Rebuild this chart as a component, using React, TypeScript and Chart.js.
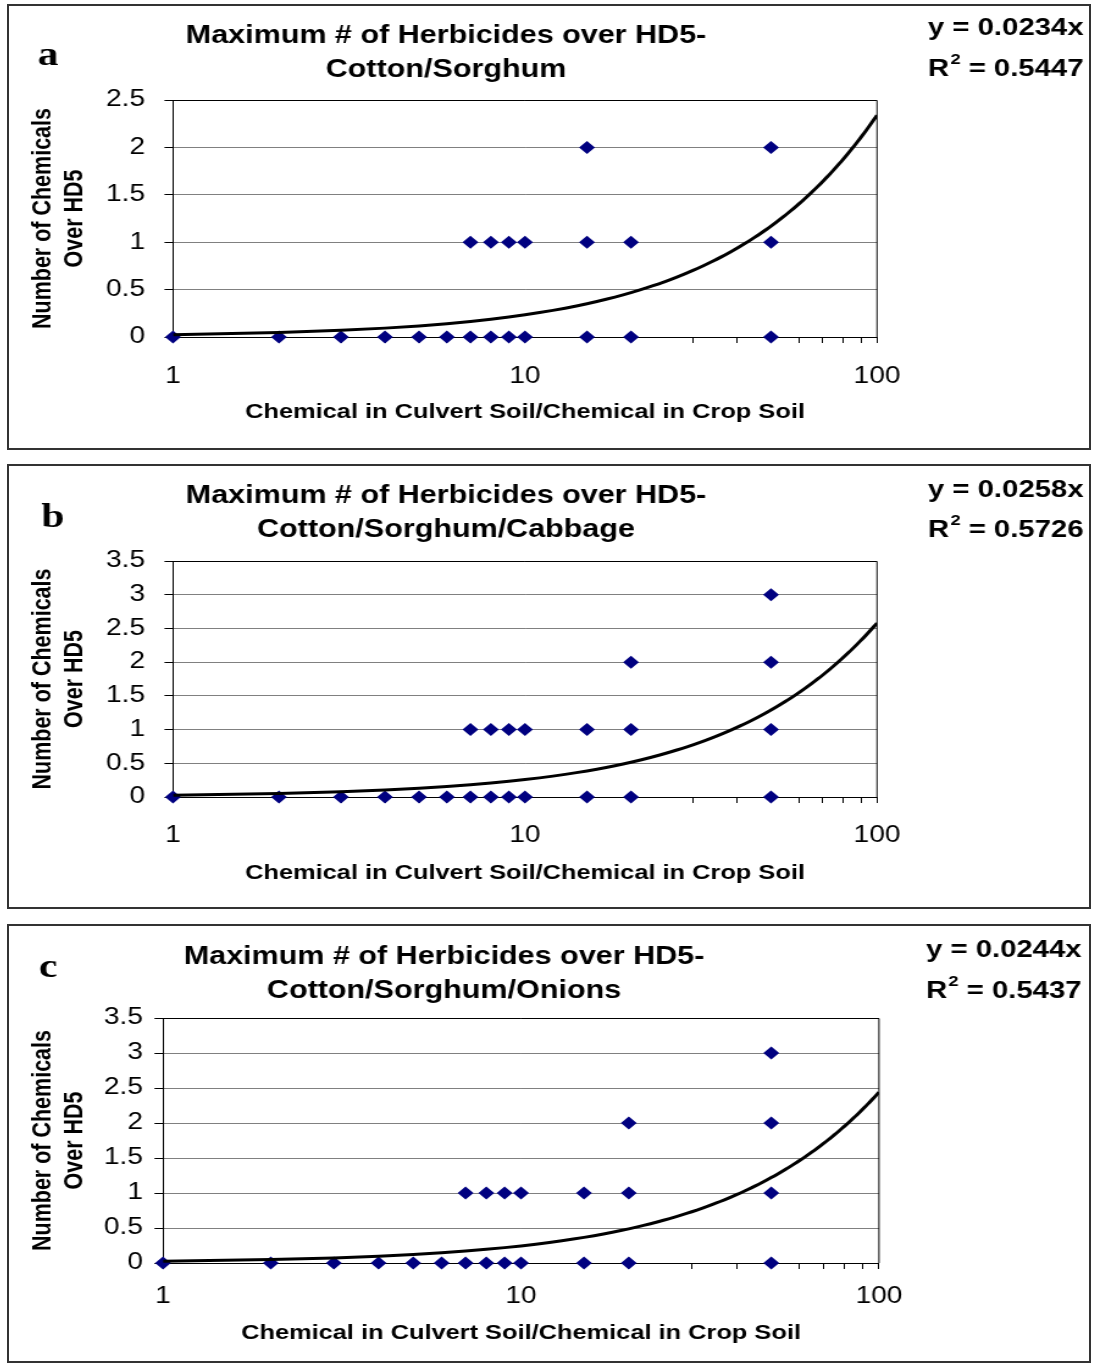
import { useEffect, useRef } from "react";
import { Chart, registerables } from "chart.js";

Chart.register(...registerables);

// ---------------------------------------------------------------------------
// Data
// ---------------------------------------------------------------------------

// Ratio of chemical in culvert soil to chemical in crop soil for each sample,
// paired with the number of herbicides found above HD5 for that sample.
const cottonSorghumRatios = [1, 2, 3, 4, 5, 6, 7, 8, 9, 10, 15, 20, 50, 7, 8, 9, 10, 15, 20, 50, 15, 50];
const cottonSorghumCounts = [0, 0, 0, 0, 0, 0, 0, 0, 0, 0, 0, 0, 0, 1, 1, 1, 1, 1, 1, 1, 2, 2];

const cabbageRatios = [1, 2, 3, 4, 5, 6, 7, 8, 9, 10, 15, 20, 50, 7, 8, 9, 10, 15, 20, 50, 20, 50, 50];
const cabbageCounts = [0, 0, 0, 0, 0, 0, 0, 0, 0, 0, 0, 0, 0, 1, 1, 1, 1, 1, 1, 1, 2, 2, 3];

const onionRatios = [1, 2, 3, 4, 5, 6, 7, 8, 9, 10, 15, 20, 50, 7, 8, 9, 10, 15, 20, 50, 20, 50, 50];
const onionCounts = [0, 0, 0, 0, 0, 0, 0, 0, 0, 0, 0, 0, 0, 1, 1, 1, 1, 1, 1, 1, 2, 2, 3];

// Linear trendlines forced through the origin (y = m·x) and their R²
const trendSlopes = [0.0234, 0.0258, 0.0244];
const trendR2 = ["0.5447", "0.5726", "0.5437"];

const panelLetters = ["a", "b", "c"];
const titleLine1 = "Maximum # of Herbicides over HD5-";
const cropTitles = ["Cotton/Sorghum", "Cotton/Sorghum/Cabbage", "Cotton/Sorghum/Onions"];
const yAxisMax = [2.5, 3.5, 3.5];
const yAxisStep = 0.5;

const xTickValues = [1, 2, 3, 4, 5, 6, 7, 8, 9, 10, 20, 30, 40, 50, 60, 70, 80, 90, 100];
const xLabelledTicks = [1, 10, 100];

const yAxisTitle = ["Number of Chemicals", "Over HD5"];
const xAxisTitle = "Chemical in Culvert Soil/Chemical in Crop Soil";

const panelRatios = [cottonSorghumRatios, cabbageRatios, onionRatios];
const panelCounts = [cottonSorghumCounts, cabbageCounts, onionCounts];

// ---------------------------------------------------------------------------
// Layout (frame coordinates in page px; the canvas is drawn narrower and
// stretched horizontally to fill the frame)
// ---------------------------------------------------------------------------

const FRAME_LEFT = 7;
const FRAME_W = 1084;
const FRAME_BORDER = 2;
const INNER_W = FRAME_W - 2 * FRAME_BORDER;
const CANVAS_W = 885;
const SX = INNER_W / CANVAS_W;

const SANS = '"Liberation Sans", Arial, Helvetica, sans-serif';
const SERIF = '"Liberation Serif", "Times New Roman", serif';

const TICK_FONT = 23;
const TITLE_FONT = 25;
const EQ_FONT = 24;
const X_TITLE_FONT = 20.8;
const Y_TITLE_FONT = 21.5;
const Y_TITLE_LINE = 26.2;
const Y_TICK_LEN = 7;
const X_TICK_LEN = 6;

type PanelLayout = {
  top: number;
  height: number;
  plotL: number;
  plotR: number;
  plotT: number;
  plotB: number;
  yTickGap: number;
  xTickOffset: number;
  xTitleOffset: number;
  yTitleX: number;
  titleX: number;
  titleY: [number, number];
  eqX: number;
  eqY: [number, number];
  letterX: number;
  letterY: number;
};

const layouts: PanelLayout[] = [
  {
    top: 4, height: 446, plotL: 164, plotR: 868, plotT: 94, plotB: 331,
    yTickGap: 28, xTickOffset: 40, xTitleOffset: 75, yTitleX: 34,
    titleX: 437, titleY: [30, 64], eqX: 919, eqY: [22, 63], letterX: 39, letterY: 50,
  },
  {
    top: 464, height: 445, plotL: 164, plotR: 868, plotT: 95, plotB: 331,
    yTickGap: 28, xTickOffset: 39, xTitleOffset: 76, yTitleX: 34,
    titleX: 437, titleY: [30, 64], eqX: 919, eqY: [24, 64], letterX: 44, letterY: 52,
  },
  {
    top: 924, height: 439, plotL: 154, plotR: 870, plotT: 92, plotB: 337,
    yTickGap: 20, xTickOffset: 34, xTitleOffset: 70, yTitleX: 34,
    titleX: 435, titleY: [31, 65], eqX: 917, eqY: [24, 65], letterX: 39, letterY: 42,
  },
];

function Panel({ index }: { index: number }) {
  const canvasRef = useRef<HTMLCanvasElement | null>(null);
  const L = layouts[index];
  const innerH = L.height - 2 * FRAME_BORDER;

  useEffect(() => {
    const canvas = canvasRef.current;
    if (!canvas) return;

    const ratios = panelRatios[index];
    const counts = panelCounts[index];
    const slope = trendSlopes[index];
    const r2 = trendR2[index];

    const points = ratios.map((r, i) => ({ x: r, y: counts[i] }));
    // trendline sampled along the x range from its equation
    const trendX = Array.from({ length: 100 }, (_, i) => i + 1);
    const trend = trendX.map((x) => ({ x, y: slope * x }));

    const areaL = L.plotL / SX;
    const areaR = L.plotR / SX;
    const yTitleLeft = L.yTitleX / SX - Y_TITLE_LINE / 2;
    const xTitleLine = X_TITLE_FONT * 1.2;
    const xAxisH = L.xTitleOffset + xTitleLine / 2;
    const tickLine = TICK_FONT * 1.2;

    const textPlugin = {
      id: "panelText",
      afterDraw(chart: any) {
        const { ctx, chartArea } = chart;
        ctx.save();
        // plot frame (top and right edges)
        ctx.strokeStyle = "#000";
        ctx.lineWidth = 1;
        ctx.beginPath();
        const t = Math.round(chartArea.top) + 0.5;
        ctx.moveTo(chartArea.left, t);
        ctx.lineTo(chartArea.right, t);
        ctx.lineTo(chartArea.right, chartArea.bottom);
        ctx.stroke();

        ctx.fillStyle = "#000";
        ctx.textBaseline = "middle";
        ctx.textAlign = "center";
        ctx.font = `bold 34px ${SERIF}`;
        ctx.fillText(panelLetters[index], L.letterX / SX, L.letterY);

        ctx.font = `bold ${TITLE_FONT}px ${SANS}`;
        ctx.fillText(titleLine1, L.titleX / SX, L.titleY[0]);
        ctx.fillText(cropTitles[index], L.titleX / SX, L.titleY[1]);

        ctx.textAlign = "left";
        let x = L.eqX / SX;
        ctx.font = `bold ${EQ_FONT}px ${SANS}`;
        ctx.fillText(`y = ${slope.toFixed(4)}x`, x, L.eqY[0]);
        ctx.fillText("R", x, L.eqY[1]);
        x += ctx.measureText("R").width + 1;
        ctx.font = `bold 15px ${SANS}`;
        ctx.fillText("2", x, L.eqY[1] - 9);
        x += ctx.measureText("2").width;
        ctx.font = `bold ${EQ_FONT}px ${SANS}`;
        ctx.fillText(` = ${r2}`, x, L.eqY[1]);
        ctx.restore();
      },
    };

    const chart = new Chart(canvas, {
      type: "scatter",
      data: {
        datasets: [
          {
            label: "Linear trend",
            data: trend,
            showLine: true,
            borderColor: "#000",
            borderWidth: 3,
            pointRadius: 0,
            tension: 0,
            fill: false,
          },
          {
            label: "Samples",
            data: points,
            pointStyle: "rectRot",
            pointRadius: 6.5,
            pointBorderWidth: 0,
            backgroundColor: "#000080",
            borderColor: "#000080",
            clip: false,
          } as any,
        ],
      },
      options: {
        responsive: false,
        maintainAspectRatio: false,
        animation: false,
        devicePixelRatio: 1,
        events: [],
        layout: {
          padding: {
            left: yTitleLeft,
            right: CANVAS_W - areaR,
            top: L.plotT,
            bottom: innerH - L.plotB - xAxisH,
          },
        },
        plugins: {
          legend: { display: false },
          tooltip: { enabled: false },
          title: { display: false },
        },
        scales: {
          x: {
            type: "logarithmic",
            min: 1,
            max: 100,
            afterBuildTicks(scale: any) {
              scale.ticks = xTickValues.map((v) => ({ value: v, major: xLabelledTicks.includes(v) }));
            },
            afterFit(scale: any) {
              scale.height = xAxisH;
            },
            ticks: {
              autoSkip: false,
              maxRotation: 0,
              minRotation: 0,
              padding: L.xTickOffset - X_TICK_LEN - tickLine / 2,
              color: "#000",
              font: { family: SANS, size: TICK_FONT },
              callback: (v: any) => (xLabelledTicks.includes(Number(v)) ? String(v) : ""),
            },
            grid: {
              drawOnChartArea: false,
              drawTicks: true,
              tickLength: X_TICK_LEN,
              tickColor: "#000",
              color: "#000",
            },
            border: { display: true, color: "#000", width: 1 },
            title: {
              display: true,
              text: xAxisTitle,
              color: "#000",
              padding: 0,
              font: { family: SANS, size: X_TITLE_FONT, weight: "bold" },
            },
          },
          y: {
            type: "linear",
            min: 0,
            max: yAxisMax[index],
            afterFit(scale: any) {
              scale.width = areaL - yTitleLeft;
            },
            ticks: {
              stepSize: yAxisStep,
              padding: (L.yTickGap - Y_TICK_LEN * SX) / SX,
              color: "#000",
              font: { family: SANS, size: TICK_FONT },
              callback: (v: any) => String(v),
            },
            grid: {
              color: "#808080",
              lineWidth: 1,
              drawTicks: true,
              tickLength: Y_TICK_LEN,
              tickColor: "#000",
            },
            border: { display: true, color: "#000", width: 1 },
            title: {
              display: true,
              text: yAxisTitle,
              color: "#000",
              padding: 0,
              font: { family: SANS, size: Y_TITLE_FONT, weight: "bold", lineHeight: Y_TITLE_LINE / Y_TITLE_FONT },
            },
          },
        },
      },
      plugins: [textPlugin],
    } as any);

    return () => chart.destroy();
  }, [index]);

  return (
    <div
      style={{
        position: "absolute",
        left: FRAME_LEFT,
        top: L.top,
        width: FRAME_W,
        height: L.height,
        border: `${FRAME_BORDER}px solid #333`,
        boxSizing: "border-box",
        overflow: "hidden",
        background: "#fff",
      }}
    >
      <canvas
        ref={canvasRef}
        width={CANVAS_W}
        height={innerH}
        style={{
          position: "absolute",
          left: 0,
          top: 0,
          width: CANVAS_W,
          height: innerH,
          transform: `scaleX(${SX})`,
          transformOrigin: "0 0",
        }}
      />
    </div>
  );
}

export default function App() {
  return (
    <div style={{ position: "absolute", left: 0, top: 0, width: 1094, height: 1363, background: "#fff" }}>
      {layouts.map((_, i) => (
        <Panel key={i} index={i} />
      ))}
    </div>
  );
}
